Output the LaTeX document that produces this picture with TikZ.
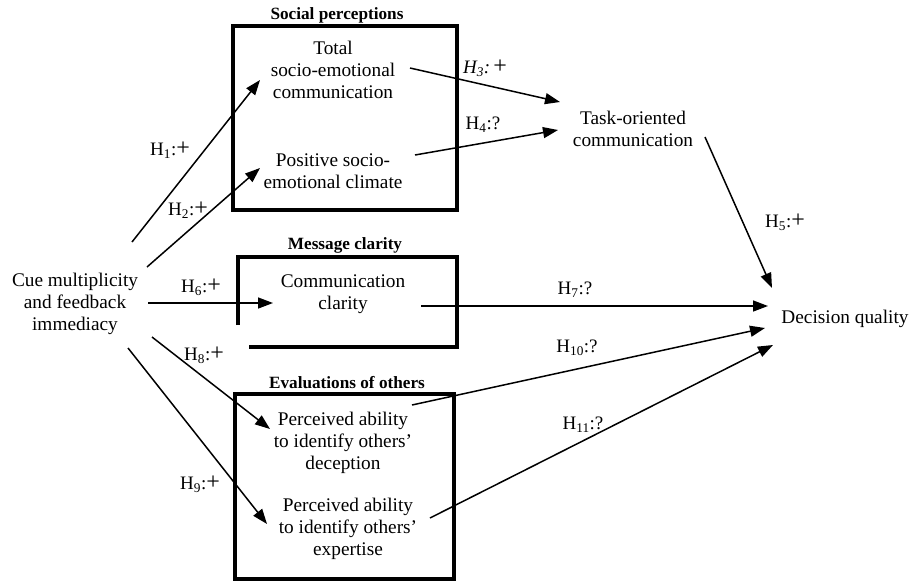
\documentclass[tikz,border=0pt]{standalone}
\usepackage{fontspec}
\setmainfont{Liberation Serif}
\usetikzlibrary{arrows.meta,calc}
\newcommand\pl{{\fontsize{24}{24}\selectfont +}}
\begin{document}
\begin{tikzpicture}[x=1pt,y=-1pt,
 txt/.style={align=center, inner sep=0pt, font=\fontsize{19.3}{22.2}\selectfont},
 ttl/.style={inner sep=0pt, font=\bfseries\fontsize{17.2}{19}\selectfont},
 lab/.style={inner sep=0pt, font=\fontsize{19}{21}\selectfont},
 grp/.style={line width=3.5pt, line join=miter},
 arr/.style={line width=1.5pt, -{Triangle[length=15pt,width=11pt]}}]
\useasboundingbox (0,0) rectangle (911,582);
% group boxes
\draw[grp] (233,26) rectangle (457,210);
\draw[grp] (238,325) -- (238,257) -- (457,257) -- (457,347) -- (249,347);
\draw[grp] (235,394) rectangle (454,579);
\node[ttl] (t1) at (337,15) {Social perceptions};
\node[ttl] (t2) at (345,245) {Message clarity};
\node[ttl] (t3) at (347,383) {Evaluations of others};
% nodes
\node[txt] (cue) at (75,304) {Cue multiplicity\\and feedback\\immediacy};
\node[txt] (total) at (333,70) {Total\\socio-emotional\\communication};
\node[txt] (pos) at (333,171) {Positive socio-\\emotional climate};
\node[txt] (task) at (633,129) {Task-oriented\\communication};
\node[txt] (comm) at (343,294) {Communication\\clarity};
\node[txt] (dec) at (845,319) {Decision quality};
\node[txt] (decep) at (343,443) {Perceived ability\\to identify others'\\deception};
\node[txt] (exp) at (348,529) {Perceived ability\\to identify others'\\expertise};
% arrows
\draw[arr] ($(cue.center)+(57,-62)$) -- ($(total.center)+(-73,10)$);
\draw[arr] ($(cue.center)+(72,-37)$) -- ($(pos.center)+(-73,-3)$);
\draw[arr] ($(cue.center)+(73,-1)$) -- ($(comm.center)+(-70,9)$);
\draw[arr] ($(cue.center)+(77,33)$) -- ($(decep.center)+(-73,-14)$);
\draw[arr] ($(cue.center)+(53,44)$) -- ($(exp.center)+(-81,-5)$);
\draw[arr] ($(total.center)+(77,-2)$) -- ($(task.center)+(-73,-27)$);
\draw[arr] ($(pos.center)+(82,-16)$) -- ($(task.center)+(-75,1)$);
\draw[arr] ($(task.center)+(72,8)$) -- ($(dec.center)+(-73,-31)$);
\draw[arr] ($(comm.center)+(78,12)$) -- ($(dec.center)+(-77,-13)$);
\draw[arr] ($(decep.center)+(69,-38)$) -- ($(dec.center)+(-80,9)$);
\draw[arr] ($(exp.center)+(82,-11)$) -- ($(dec.center)+(-72,26)$);
% labels
\node[lab] (h1) at (170,150) {H\textsubscript{1}:\pl};
\node[lab] (h2) at (188,210) {H\textsubscript{2}:\pl};
\node[lab] (h3) at (485,68) {\textit{H\textsubscript{3}:}\,\pl};
\node[lab] (h4) at (483,125) {H\textsubscript{4}:?};
\node[lab] (h5) at (785,222) {H\textsubscript{5}:\pl};
\node[lab] (h6) at (201,287) {H\textsubscript{6}:\pl};
\node[lab] (h7) at (575,290) {H\textsubscript{7}:?};
\node[lab] (h8) at (204,355) {H\textsubscript{8}:\pl};
\node[lab] (h9) at (200,484) {H\textsubscript{9}:\pl};
\node[lab] (h10) at (577,348) {H\textsubscript{10}:?};
\node[lab] (h11) at (583,425) {H\textsubscript{11}:?};
\end{tikzpicture}
\end{document}
